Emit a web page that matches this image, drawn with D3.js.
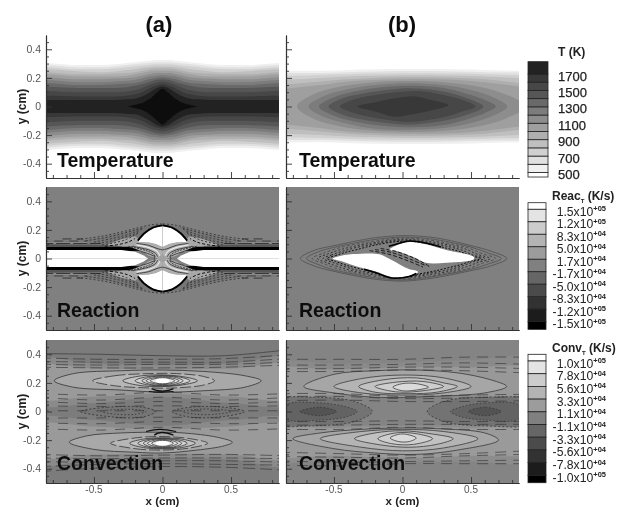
<!DOCTYPE html>
<html><head><meta charset="utf-8">
<script src="https://cdn.jsdelivr.net/npm/d3@7"></script>
<style>html,body{margin:0;background:#fff}svg{display:block;font-family:"Liberation Sans",Arial,sans-serif}</style>
</head><body><svg id="c" width="623" height="507"></svg>
<script>
// ---------- axis data ----------
const xMajor=[-0.5,0,0.5];
const xMinor=[-0.8,-0.7,-0.6,-0.4,-0.3,-0.2,-0.1,0.1,0.2,0.3,0.4,0.6,0.7,0.8];
const yMajor=[-0.4,-0.2,0,0.2,0.4];
const yMinor=[-0.45,-0.35,-0.3,-0.25,-0.15,-0.1,-0.05,0.05,0.1,0.15,0.25,0.3,0.35,0.45];
const rowNames=["Temperature","Reaction","Convection"];
const colNames=["(a)","(b)"];
// ---------- colour bars ----------
const tempLevels=[500,600,700,800,900,1000,1100,1200,1300,1400,1500,1600,1700,1800];
const tempGrays=["#f0f0f0","#e0e0e0","#d0d0d0","#bfbfbf","#afafaf","#9f9f9f","#8d8d8d","#7b7b7b","#696969","#565656","#474747","#383838","#212121","#101010"];
const tempTicks=[500,700,900,1100,1300,1500,1700];
const reacLabels=[["1.5","+05"],["1.2","+05"],["8.3","+04"],["5.0","+04"],["1.7","+04"],["-1.7","+04"],["-5.0","+04"],["-8.3","+04"],["-1.2","+05"],["-1.5","+05"]];
const convLabels=[["1.0","+05"],["7.8","+04"],["5.6","+04"],["3.3","+04"],["1.1","+04"],["-1.1","+04"],["-3.3","+04"],["-5.6","+04"],["-7.8","+04"],["-1.0","+05"]];
const barGrays=["#ffffff","#e4e4e4","#cccccc","#b4b4b4","#9c9c9c","#808080","#666666","#4c4c4c","#333333","#1a1a1a","#000000"];
// ---------- Temperature (a): half thickness of each level against |x| ----------
const tempAX=[0,.05,.1,.15,.2,.26,.35,.45,.6,.85,.95];
const tempAHalf=[
[.325,.325,.32,.315,.31,.305,.295,.29,.29,.305,.31],
[.31,.31,.305,.30,.295,.29,.28,.275,.275,.29,.295],
[.295,.295,.29,.285,.28,.275,.265,.26,.26,.275,.28],
[.28,.28,.275,.27,.26,.255,.245,.24,.245,.26,.265],
[.265,.265,.26,.25,.24,.235,.23,.225,.225,.24,.245],
[.25,.25,.245,.235,.225,.215,.21,.21,.21,.225,.23],
[.235,.235,.225,.215,.205,.2,.195,.19,.19,.205,.21],
[.22,.215,.21,.195,.185,.18,.175,.17,.17,.185,.19],
[.205,.2,.19,.175,.165,.16,.155,.15,.15,.165,.17],
[.19,.185,.17,.155,.145,.135,.13,.13,.13,.14,.145],
[.175,.165,.15,.13,.115,.105,.10,.10,.10,.11,.115],
[.155,.145,.125,.10,.085,.075,.07,.07,.07,.075,.075],
[.14,.125,.095,.07,.055,.05,.045,.045,.045,.045,.045],
[.125,.09,.05,.025,.012,0,0,0,0,0,0]];
// ---------- Temperature (b) ----------
const tempBX=[-.95,-.85,-.6,-.4,-.2,0,.2,.4,.6,.85,.95];
const tempBHalf=[
[.25,.25,.25,.255,.26,.262,.262,.26,.255,.25,.25],
[.235,.235,.235,.24,.245,.248,.248,.245,.24,.238,.238],
[.215,.215,.22,.225,.23,.233,.233,.23,.225,.22,.22],
[.19,.19,.2,.21,.215,.218,.218,.215,.21,.2,.195],
[.15,.155,.175,.19,.2,.205,.205,.2,.19,.165,.16],
[.115,.125,.15,.175,.185,.19,.19,.185,.17,.14,.125]];
const tempBRings=[
[1100,[[-.77,0],[-.65,.085],[-.45,.14],[-.2,.17],[.05,.178],[.3,.17],[.55,.14],[.75,.085],[.9,0],[.75,-.085],[.55,-.14],[.3,-.17],[.05,-.178],[-.2,-.17],[-.45,-.14],[-.65,-.085]]],
[1200,[[-.686,0],[-.58,.07],[-.4,.12],[-.2,.15],[.05,.162],[.3,.15],[.5,.115],[.66,.065],[.764,0],[.66,-.065],[.5,-.115],[.3,-.15],[.05,-.162],[-.2,-.155],[-.4,-.12],[-.58,-.07]]],
[1300,[[-.61,0],[-.5,.065],[-.35,.105],[-.15,.135],[.05,.145],[.3,.13],[.5,.08],[.6,.045],[.68,0],[.6,-.045],[.5,-.08],[.3,-.13],[.05,-.145],[-.15,-.135],[-.35,-.105],[-.5,-.065]]],
[1400,[[-.54,0],[-.43,.06],[-.3,.09],[-.1,.118],[.07,.128],[.3,.105],[.45,.065],[.59,0],[.45,-.065],[.3,-.1],[.05,-.128],[-.1,-.118],[-.3,-.09],[-.43,-.06]]],
[1500,[[-.457,0],[-.35,.05],[-.2,.08],[0,.103],[.12,.108],[.3,.08],[.42,.05],[.534,0],[.42,-.04],[.3,-.075],[.05,-.108],[-.1,-.095],[-.3,-.06],[-.4,-.03]]],
[1600,[[-.33,0],[-.2,.03],[-.05,.058],[.08,.072],[.2,.047],[.336,.01],[.2,-.03],[.05,-.058],[-.05,-.072],[-.2,-.035]]]];
// ---------- Reaction (a): one quadrant, drawn in all four ----------
const reacAFills=[
["#767676",[[-.95,.125],[-.6,.125],[-.45,.15],[-.3,.18],[-.18,.212],[-.06,.235],[0,.24],[0,.06],[-.2,.06],[-.95,.05]]],
["#a8a8a8",[[-.42,.09],[-.3,.135],[-.2,.155],[-.15,.115],[-.22,.085]]],
["#8a8a8a",[[-.95,.118],[-.7,.115],[-.55,.115],[-.55,.10],[-.95,.10]]],
["#555555",[[-.95,.1],[-.5,.097],[-.3,.088],[-.3,.06],[-.95,.06]]],
["#000000",[[-.95,.08],[-.25,.08],[-.18,.072],[-.12,.058],[-.25,.05],[-.95,.05]]],
["#b0b0b0",[[-.19,.115],[-.1,.11],[-.05,.1],[0,.08],[0,0],[-.03,0],[-.1,.02],[-.15,.05],[-.22,.075]]],
["#ffffff",[[0,.228],[-.07,.212],[-.13,.172],[-.176,.125],[-.172,.115],[-.1,.112],[-.05,.102],[0,.08]]],
["#ffffff",[[-.95,.06],[-.3,.06],[-.2,.047],[-.14,.022],[-.105,0],[-.95,0]]]];
const reacALines=[
[1.8,"none","#000",[[-.18,.125],[-.13,.178],[-.07,.216],[0,.232]]],
[.7,"2 2","#222",[[-.62,.132],[-.45,.155],[-.3,.185],[-.18,.215],[-.08,.236],[0,.242]]],
[.7,"2 2","#222",[[-.56,.124],[-.42,.145],[-.3,.172],[-.2,.198],[-.13,.217]]],
[.7,"2 2","#222",[[-.5,.115],[-.38,.137],[-.28,.16],[-.2,.185],[-.15,.205]]],
[.7,"2 2","#222",[[-.47,.105],[-.36,.125],[-.27,.15],[-.2,.172],[-.17,.19]]],
[.8,"2 2","#222",[[-.44,.095],[-.34,.112],[-.26,.135],[-.21,.16],[-.18,.175]]],
[.9,"3 2","#000",[[-.42,.085],[-.32,.098],[-.25,.115],[-.2,.14]]],
[.8,"9 5","#222",[[-.73,.137],[-.58,.137]]],
[.8,"9 6","#333",[[-.9,.122],[-.55,.122]]],
[.8,"14 3","#222",[[-.9,.105],[-.45,.105]]],
[.9,"none","#333",[[-.19,.105],[-.1,.092],[-.04,.07],[0,.06]]],
[.9,"none","#333",[[-.22,.085],[-.1,.06],[-.05,.035],[-.035,.012]]],
[1.2,"none","#e8e8e8",[[-.19,.095],[-.1,.076],[-.04,.05],[-.02,.02]]],
[.9,"none","#333",[[-.16,.05],[-.1,.032],[-.05,.012]]],
[.9,"2 1","#333",[[-.25,.085],[-.12,.055],[-.06,.025],[-.06,0]]]];
// ---------- Reaction (b) ----------
const reacBRings=[
[.5,"none",[[-.745,0],[-.65,.055],[-.5,.09],[-.35,.12],[-.2,.145],[0,.16],[.2,.15],[.35,.125],[.5,.09],[.65,.05],[.76,0],[.65,-.05],[.5,-.085],[.35,-.115],[.2,-.14],[0,-.158],[-.2,-.145],[-.35,-.12],[-.5,-.09],[-.65,-.05]]],
[.5,"none",[[-.7,0],[-.62,.045],[-.5,.078],[-.35,.108],[-.2,.133],[0,.15],[.2,.138],[.35,.113],[.5,.08],[.62,.04],[.72,0],[.62,-.04],[.5,-.075],[.35,-.105],[.2,-.13],[0,-.15],[-.2,-.135],[-.35,-.11],[-.5,-.08],[-.62,-.04]]],
[.6,"3 2",[[-.66,0],[-.58,.036],[-.48,.07],[-.35,.098],[-.2,.122],[0,.143],[.2,.128],[.35,.103],[.48,.074],[.58,.034],[.68,0],[.58,-.034],[.48,-.07],[.35,-.098],[.2,-.122],[0,-.143],[-.2,-.125],[-.35,-.1],[-.48,-.07],[-.58,-.034]]],
[.7,"2 2",[[-.62,0],[-.55,.03],[-.46,.06],[-.35,.086],[-.2,.112],[0,.135],[.2,.118],[.35,.092],[.46,.066],[.55,.028],[.64,0],[.55,-.028],[.46,-.06],[.35,-.088],[.2,-.112],[0,-.135],[-.2,-.115],[-.35,-.09],[-.46,-.06],[-.55,-.03]]],
[.8,"2 2",[[-.58,0],[-.52,.024],[-.44,.05],[-.35,.074],[-.2,.103],[0,.128],[.2,.108],[.35,.08],[.44,.056],[.52,.022],[.6,0],[.52,-.022],[.44,-.05],[.35,-.076],[.2,-.102],[0,-.128],[-.2,-.105],[-.35,-.078],[-.44,-.05],[-.52,-.024]]],
[1,"2 1.5",[[-.55,0],[-.49,.02],[-.42,.042],[-.33,.063],[-.2,.094],[0,.12],[.2,.098],[.33,.07],[.42,.048],[.5,.018],[.57,0],[.5,-.018],[.42,-.044],[.33,-.066],[.2,-.094],[0,-.12],[-.2,-.096],[-.33,-.068],[-.42,-.044],[-.49,-.02]]]];
const reacBWhite=[
[[-.51,.0],[-.42,.025],[-.3,.034],[-.17,.03],[-.1,.0],[.05,-.075],[.1,-.085],[.115,-.095],[.05,-.12],[-.08,-.13],[-.2,-.09],[-.35,-.05],[-.45,-.018]],
[[-.1,.06],[-.05,.09],[.05,.115],[.17,.1],[.32,.06],[.52,.012],[.52,-.005],[.32,-.03],[.17,-.03],[.08,.01],[-.05,.055]]];
const reacBBlack=[
[1.6,[[-.1,.085],[-.03,.105],[.05,.122],[.17,.108],[.28,.08]]],
[1.6,[[.1,-.105],[.05,-.126],[-.08,-.136],[-.2,-.098],[-.28,-.075]]],
[.8,[[-.16,.07],[-.05,.05],[.08,.005],[.17,-.04],[.2,-.06]]],
[.8,[[-.24,.055],[-.1,.03],[.05,-.02],[.15,-.06]]],
[.8,[[-.2,.062],[-.08,.042],[.07,-.01],[.17,-.05]]]];
// ---------- Convection (a) ----------
const convAFills=[
["#8a8a8a",[[-.95,.36],[-.5,.335],[0,.325],[.5,.335],[.95,.37],[.95,.06],[.5,.06],[0,.10],[-.5,.06],[-.95,.06]]],
["#9a9a9a",[[-.95,.31],[-.5,.30],[0,.295],[.5,.30],[.95,.32],[.95,.10],[.5,.105],[0,.125],[-.5,.105],[-.95,.10]]],
["#a8a8a8",[[-.79,.215],[-.65,.265],[-.3,.285],[0,.29],[.3,.28],[.6,.25],[.72,.215],[.6,.17],[.3,.145],[0,.135],[-.3,.15],[-.65,.17]]],
["#b6b6b6",[[-.51,.215],[-.35,.25],[-.1,.265],[.1,.265],[.3,.245],[.38,.215],[.3,.185],[.1,.165],[-.1,.165],[-.35,.18]]],
["#c4c4c4",[[-.29,.215],[-.15,.25],[.1,.25],[.255,.215],[.1,.18],[-.15,.18]]],
["#d2d2d2",[[-.2,.215],[-.1,.245],[.1,.245],[.2,.215],[.1,.185],[-.1,.185]]],
["#e4e4e4",[[-.12,.215],[-.05,.238],[.05,.238],[.12,.215],[.05,.192],[-.05,.192]]],
["#ffffff",[[-.05,.215],[-.025,.235],[.025,.235],[.05,.215],[.025,.197],[-.025,.197]]],
["#8a8a8a",[[-.95,-.36],[-.5,-.335],[0,-.325],[.5,-.335],[.95,-.37],[.95,-.06],[.5,-.06],[0,-.10],[-.5,-.06],[-.95,-.06]]],
["#9a9a9a",[[-.95,-.31],[-.5,-.30],[0,-.295],[.5,-.30],[.95,-.32],[.95,-.10],[.5,-.105],[0,-.125],[-.5,-.105],[-.95,-.10]]],
["#a8a8a8",[[-.68,-.215],[-.5,-.265],[-.2,-.285],[0,-.29],[.25,-.27],[.45,-.24],[.51,-.215],[.4,-.18],[.15,-.15],[0,-.145],[-.3,-.15],[-.55,-.17]]],
["#b6b6b6",[[-.38,-.222],[-.2,-.26],[0,-.27],[.2,-.255],[.33,-.222],[.2,-.19],[0,-.175],[-.2,-.185]]],
["#c4c4c4",[[-.24,-.222],[-.12,-.255],[.12,-.255],[.24,-.222],[.12,-.19],[-.12,-.19]]],
["#d2d2d2",[[-.18,-.222],[-.1,-.25],[.1,-.25],[.18,-.222],[.1,-.195],[-.1,-.195]]],
["#e4e4e4",[[-.11,-.222],[-.05,-.245],[.05,-.245],[.11,-.222],[.05,-.2],[-.05,-.2]]],
["#ffffff",[[-.05,-.222],[-.025,-.24],[.025,-.24],[.05,-.222],[.025,-.205],[-.025,-.205]]],
["#747474",[[-.6,.0],[-.4,.03],[-.15,.03],[-.05,.0],[-.15,-.04],[-.4,-.035]]],
["#747474",[[.07,.0],[.2,.03],[.45,.03],[.6,.0],[.45,-.035],[.2,-.04]]]];
const convABow=[[.405,.40,.39,.39,.43],[.375,.365,.365,.37,.395],[.35,.345,.345,.345,.37],[.33,.325,.33,.33,.345],[.31,.305,.305,.31,.325],[.125,.115,.135,.115,.125],[.098,.08,.1,.08,.098],[.07,.055,.07,.055,.07],[.04,.035,.04,.035,.04],[.005,.005,.005,.005,.005],[-.045,-.045,-.04,-.045,-.045],[-.08,-.085,-.07,-.085,-.08],[-.12,-.13,-.11,-.13,-.12],[-.3,-.31,-.305,-.30,-.31],[-.325,-.33,-.325,-.325,-.33],[-.35,-.355,-.345,-.345,-.355],[-.385,-.37,-.365,-.37,-.375],[-.42,-.395,-.385,-.39,-.41]];
const convBowX=[-.9,-.45,0,.45,.9];
const convARings=[
["none",[[-.79,.215],[-.65,.265],[-.3,.285],[0,.29],[.3,.28],[.6,.25],[.72,.215],[.6,.17],[.3,.145],[0,.135],[-.3,.15],[-.65,.17]]],
["11 3",[[-.51,.215],[-.35,.25],[-.1,.265],[.1,.265],[.3,.245],[.38,.215],[.3,.185],[.1,.165],[-.1,.165],[-.35,.18]]],
["none",[[-.29,.215],[-.15,.25],[.1,.25],[.255,.215],[.1,.18],[-.15,.18]]],
["none",[[-.2,.215],[-.1,.245],[.1,.245],[.2,.215],[.1,.185],[-.1,.185]]],
["none",[[-.15,.215],[-.08,.242],[.08,.242],[.15,.215],[.08,.188],[-.08,.188]]],
["none",[[-.12,.215],[-.05,.238],[.05,.238],[.12,.215],[.05,.192],[-.05,.192]]],
["none",[[-.09,.215],[-.04,.233],[.04,.233],[.09,.215],[.04,.197],[-.04,.197]]],
["none",[[-.68,-.215],[-.5,-.265],[-.2,-.285],[0,-.29],[.25,-.27],[.45,-.24],[.51,-.215],[.4,-.18],[.15,-.15],[0,-.145],[-.3,-.15],[-.55,-.17]]],
["11 3",[[-.38,-.222],[-.2,-.26],[0,-.27],[.2,-.255],[.33,-.222],[.2,-.19],[0,-.175],[-.2,-.185]]],
["none",[[-.24,-.222],[-.12,-.255],[.12,-.255],[.24,-.222],[.12,-.19],[-.12,-.19]]],
["none",[[-.18,-.222],[-.1,-.25],[.1,-.25],[.18,-.222],[.1,-.195],[-.1,-.195]]],
["none",[[-.14,-.222],[-.08,-.248],[.08,-.248],[.14,-.222],[.08,-.197],[-.08,-.197]]],
["none",[[-.11,-.222],[-.05,-.245],[.05,-.245],[.11,-.222],[.05,-.2],[-.05,-.2]]],
["none",[[-.08,-.222],[-.04,-.24],[.04,-.24],[.08,-.222],[.04,-.205],[-.04,-.205]]],
["2 2",[[-.6,.0],[-.4,.03],[-.15,.03],[-.05,.0],[-.15,-.04],[-.4,-.035]]],
["2 2",[[.07,.0],[.2,.03],[.45,.03],[.6,.0],[.45,-.035],[.2,-.04]]],
["1.5 2",[[-.45,0],[-.3,.015],[-.18,.012],[-.12,0],[-.2,-.02],[-.35,-.018]]],
["1.5 2",[[.15,0],[.25,.015],[.4,.015],[.5,0],[.4,-.018],[.25,-.02]]]];
const convABlack=[
[1.4,[[-.08,.16],[-.03,.145],[.03,.145],[.08,.16]]],
[1.2,[[-.1,.14],[-.02,.135],[.08,.14]]],
[1.4,[[-.06,-.165],[-.03,-.15],[.03,-.15],[.08,-.165]]],
[1.2,[[-.12,-.14],[-.02,-.125],[.1,-.14]]]];
// ---------- Convection (b) ----------
const convBLens=[[-.72,.175],[-.5,.26],[-.2,.285],[.1,.29],[.4,.27],[.65,.22],[.76,.175],[.6,.13],[.2,.105],[-.2,.1],[-.5,.13]];
const convBFills=[
["#8a8a8a",[[-.95,.33],[-.5,.335],[0,.345],[.5,.36],[.95,.365],[.95,.08],[.5,.09],[0,.11],[-.5,.08],[-.95,.07]]],
["#989898",[[-.95,.29],[-.5,.295],[0,.31],[.5,.31],[.95,.29],[.95,.12],[.5,.115],[0,.105],[-.5,.115],[-.95,.12]]],
["#a6a6a6",convBLens],
["#b4b4b4",[[-.5,.175],[-.3,.23],[0,.255],[.3,.235],[.5,.175],[.3,.13],[0,.115],[-.3,.13]]],
["#c2c2c2",[[-.32,.175],[-.15,.22],[.1,.235],[.3,.2],[.4,.175],[.25,.135],[.05,.125],[-.2,.135]]],
["#cecece",[[-.2,.175],[-.05,.205],[.15,.21],[.3,.175],[.15,.145],[0,.135],[-.1,.145]]],
["#dadada",[[-.07,.17],[0,.195],[.1,.195],[.19,.17],[.1,.15],[0,.145]]],
["#8c8c8c",[[-.95,-.33],[-.5,-.34],[0,-.35],[.5,-.35],[.95,-.34],[.95,-.09],[.5,-.09],[0,-.10],[-.5,-.09],[-.95,-.09]]],
["#9a9a9a",[[-.95,-.30],[-.5,-.31],[0,-.325],[.5,-.31],[.95,-.28],[.95,-.13],[.5,-.115],[0,-.105],[-.5,-.115],[-.95,-.13]]],
["#a6a6a6",[[-.8,-.19],[-.5,-.26],[-.2,-.29],[.1,-.3],[.4,-.27],[.7,-.2],[.6,-.15],[.25,-.12],[0,-.115],[-.3,-.125],[-.6,-.15]]],
["#b4b4b4",[[-.6,-.19],[-.3,-.25],[0,-.275],[.3,-.255],[.55,-.19],[.3,-.14],[0,-.125],[-.3,-.14]]],
["#c2c2c2",[[-.35,-.19],[-.15,-.235],[.05,-.25],[.25,-.23],[.37,-.19],[.2,-.155],[0,-.135],[-.2,-.15]]],
["#cecece",[[-.18,-.19],[-.08,-.225],[.08,-.23],[.22,-.19],[.1,-.155],[-.05,-.15]]],
["#dadada",[[-.09,-.185],[-.03,-.21],[.05,-.21],[.1,-.185],[.03,-.16],[-.03,-.16]]],
["#737373",[[-.95,.075],[-.65,.1],[-.35,.07],[-.22,.0],[-.35,-.07],[-.65,-.1],[-.95,-.08]]],
["#737373",[[.95,.07],[.6,.1],[.3,.07],[.18,.0],[.3,-.07],[.6,-.1],[.95,-.08]]],
["#636363",[[-.85,.045],[-.6,.06],[-.4,.03],[-.33,0],[-.4,-.035],[-.6,-.06],[-.85,-.05]]],
["#636363",[[.85,.045],[.6,.06],[.42,.03],[.35,0],[.42,-.035],[.6,-.06],[.85,-.05]]],
["#525252",[[-.75,0],[-.6,.03],[-.48,0],[-.6,-.03]]],
["#525252",[[.72,0],[.6,.03],[.48,0],[.6,-.03]]]];
const convBBow=[[.365,.365,.365,.38,.38],[.325,.325,.33,.34,.33],[.30,.30,.31,.31,.30],[.28,.28,.29,.285,.27],[.125,.125,.105,.115,.12],[.105,.105,.09,.095,.105],[.075,.08,.07,.07,.075],[-.07,-.07,-.065,-.07,-.07],[-.095,-.095,-.09,-.09,-.09],[-.125,-.125,-.11,-.125,-.125],[-.285,-.295,-.305,-.295,-.275],[-.315,-.32,-.325,-.31,-.3],[-.345,-.355,-.35,-.345,-.34],[-.375,-.38,-.365,-.365,-.365]];
const convBRings=[
["none",convBLens],
["none",[[-.5,.175],[-.3,.23],[0,.255],[.3,.235],[.5,.175],[.3,.13],[0,.115],[-.3,.13]]],
["none",[[-.32,.175],[-.15,.22],[.1,.235],[.3,.2],[.4,.175],[.25,.135],[.05,.125],[-.2,.135]]],
["none",[[-.2,.175],[-.05,.205],[.15,.21],[.3,.175],[.15,.145],[0,.135],[-.1,.145]]],
["none",[[-.07,.17],[0,.195],[.1,.195],[.19,.17],[.1,.15],[0,.145]]],
["none",[[-.8,-.19],[-.5,-.26],[-.2,-.29],[.1,-.3],[.4,-.27],[.7,-.2],[.6,-.15],[.25,-.12],[0,-.115],[-.3,-.125],[-.6,-.15]]],
["none",[[-.6,-.19],[-.3,-.25],[0,-.275],[.3,-.255],[.55,-.19],[.3,-.14],[0,-.125],[-.3,-.14]]],
["none",[[-.35,-.19],[-.15,-.235],[.05,-.25],[.25,-.23],[.37,-.19],[.2,-.155],[0,-.135],[-.2,-.15]]],
["none",[[-.18,-.19],[-.08,-.225],[.08,-.23],[.22,-.19],[.1,-.155],[-.05,-.15]]],
["none",[[-.09,-.185],[-.03,-.21],[.05,-.21],[.1,-.185],[.03,-.16],[-.03,-.16]]],
["2 2",[[-.95,.075],[-.65,.1],[-.35,.07],[-.22,.0],[-.35,-.07],[-.65,-.1],[-.95,-.08]]],
["2 2",[[.95,.07],[.6,.1],[.3,.07],[.18,.0],[.3,-.07],[.6,-.1],[.95,-.08]]],
["1.5 2",[[-.85,.045],[-.6,.06],[-.4,.03],[-.33,0],[-.4,-.035],[-.6,-.06],[-.85,-.05]]],
["1.5 2",[[.85,.045],[.6,.06],[.42,.03],[.35,0],[.42,-.035],[.6,-.06],[.85,-.05]]],
["1.5 2",[[-.75,0],[-.6,.03],[-.48,0],[-.6,-.03]]],
["1.5 2",[[.72,0],[.6,.03],[.48,0],[.6,-.03]]]];
// ---------- layout ----------
const W=233, H=143;
const colX=[46,286], rowY=[35,187,340];
const svg=d3.select("#c");
const defs=svg.append("defs");
defs.append("filter").attr("id","soft").attr("x","-5%").attr("y","-5%").attr("width","110%").attr("height","110%").append("feGaussianBlur").attr("stdDeviation",.65);
defs.append("filter").attr("id","softer").attr("x","-5%").attr("y","-5%").attr("width","110%").attr("height","110%").append("feGaussianBlur").attr("stdDeviation",.6);
defs.append("filter").attr("id","softT").attr("x","-5%").attr("y","-20%").attr("width","110%").attr("height","140%").append("feGaussianBlur").attr("stdDeviation",.38);
const root=svg.append("g").attr("filter","url(#soft)");
const xs=d3.scaleLinear().domain([-.85,.85]).range([0,W]);
const ys=d3.scaleLinear().domain([-.5,.5]).range([H,0]);
const closed=d3.line().x(d=>xs(d[0])).y(d=>ys(d[1])).curve(d3.curveCatmullRomClosed.alpha(.5));
const open=d3.line().x(d=>xs(d[0])).y(d=>ys(d[1])).curve(d3.curveCatmullRom.alpha(.5));
const straight=d3.line().x(d=>xs(d[0])).y(d=>ys(d[1])).curve(d3.curveLinearClosed);
const band=d3.area().x(d=>xs(d[0])).y0(d=>ys(-d[1])).y1(d=>ys(d[1])).curve(d3.curveMonotoneX);
const tempColor=d3.scaleOrdinal(tempLevels,tempGrays);

function panel(r,c){
  const g=root.append("g").attr("transform",`translate(${colX[c]},${rowY[r]})`);
  const id=`clip${r}${c}`;
  defs.append("clipPath").attr("id",id).append("rect").attr("width",W).attr("height",H);
  const clip=g.append("g").attr("clip-path",`url(#${id})`);
  return {g,body:clip.append("g")};
}
const fills=(b,list,path=closed)=>list.forEach(([col,pts])=>b.append("path").attr("d",path(pts)).attr("fill",col));
const lineP=(b,pts,w,dash,col="#1c1c1c",path=open)=>b.append("path").attr("d",path(pts)).attr("fill","none").attr("stroke",col).attr("stroke-width",w).attr("stroke-dasharray",dash==="none"?null:dash);

{const {body}=panel(0,0);
 body.attr("filter","url(#softer)");
 tempAHalf.forEach((h,i)=>{
  const pts=[...tempAX.map((x,k)=>[-x,h[k]]).reverse(),...tempAX.slice(1).map((x,k)=>[x,h[k+1]])];
  body.append("path").attr("d",band(pts)).attr("fill",tempGrays[i]);
 });}
{const {body}=panel(0,1);
 body.attr("filter","url(#softer)");
 tempBHalf.forEach((h,i)=>body.append("path").attr("d",band(tempBX.map((x,k)=>[x,h[k]]))).attr("fill",tempGrays[i]));
 tempBRings.forEach(([lev,pts])=>body.append("path").attr("d",closed(pts)).attr("fill",tempColor(lev)));
}
{const {body}=panel(1,0);
 body.append("rect").attr("width",W).attr("height",H).attr("fill","#808080");
 [[1,1],[-1,1],[1,-1],[-1,-1]].forEach(([sx,sy])=>{
  const m=p=>p.map(d=>[d[0]*sx,d[1]*sy]);
  reacAFills.forEach(([col,pts])=>body.append("path").attr("d",straight(m(pts))).attr("fill",col));
  reacALines.forEach(([w,dash,col,pts])=>lineP(body,m(pts),w,dash,col));
 });
 body.append("path").attr("d",closed([[-.03,0],[0,.025],[.03,0],[0,-.025]])).attr("fill","#a0a0a0");
}
{const {body}=panel(1,1);
 body.append("rect").attr("width",W).attr("height",H).attr("fill","#808080");
 reacBRings.forEach(([w,dash,pts])=>body.append("path").attr("d",closed(pts)).attr("fill","none").attr("stroke",w<.7?"#333":"#111").attr("stroke-width",w).attr("stroke-dasharray",dash==="none"?null:dash));
 reacBWhite.forEach(pts=>body.append("path").attr("d",closed(pts)).attr("fill","#fff"));
 reacBBlack.forEach(([w,pts])=>lineP(body,pts,w,w>1.5?"none":"4 2","#000"));
}
{const {body}=panel(2,0);
 body.append("rect").attr("width",W).attr("height",H).attr("fill","#7b7b7b");
 fills(body,convAFills);
 convABow.forEach((ys0,i)=>lineP(body,convBowX.map((x,k)=>[x,ys0[k]]),.7,i===0?"none":(Math.abs(ys0[2])<.15?"10 9":"12 5"),"#3a3a3a"));
 convARings.forEach(([dash,pts])=>body.append("path").attr("d",closed(pts)).attr("fill","none").attr("stroke","#333").attr("stroke-width",.8).attr("stroke-dasharray",dash==="none"?null:dash));
 convABlack.forEach(([w,pts])=>lineP(body,pts,w,"none","#111"));
}
{const {body}=panel(2,1);
 body.append("rect").attr("width",W).attr("height",H).attr("fill","#848484");
 fills(body,convBFills);
 convBBow.forEach((ys0,i)=>lineP(body,convBowX.map((x,k)=>[x,ys0[k]]),.7,"11 7","#3a3a3a"));
 convBRings.forEach(([dash,pts])=>body.append("path").attr("d",closed(pts)).attr("fill","none").attr("stroke","#333").attr("stroke-width",.75).attr("stroke-dasharray",dash==="none"?null:dash));
}
// ---------- axes ----------
const labels=svg.append("g").attr("filter","url(#softT)");
rowY.forEach((ry,r)=>colX.forEach((cx,c)=>{
 const g=root.append("g").attr("transform",`translate(${cx},${ry})`);
 const style=a=>{a.selectAll("path").attr("stroke","#333").attr("stroke-width",1.1);a.selectAll("line").attr("stroke","#333").attr("stroke-width",.9);a.selectAll("text").remove();return a;};
 style(g.append("g").call(d3.axisLeft(ys).tickValues(yMajor).tickSize(-6).tickSizeOuter(0)));
 style(g.append("g").call(d3.axisLeft(ys).tickValues(yMinor).tickSize(-3).tickSizeOuter(0)));
 style(g.append("g").attr("transform",`translate(0,${H})`).call(d3.axisBottom(xs).tickValues(xMajor).tickSize(-6).tickSizeOuter(0)));
 style(g.append("g").attr("transform",`translate(0,${H})`).call(d3.axisBottom(xs).tickValues(xMinor).tickSize(-3).tickSizeOuter(0)));
 if(c===0) yMajor.forEach(v=>labels.append("text").attr("x",cx-5).attr("y",ry+ys(v)+3.7).attr("text-anchor","end").attr("font-size",10.5).attr("fill","#555").text(v===0?"0":d3.format(".1f")(v).replace("−","-")));
 if(r===2) xMajor.forEach(v=>labels.append("text").attr("x",cx+xs(v)).attr("y",ry+H+10).attr("text-anchor","middle").attr("font-size",10).attr("fill","#555").text(v===0?"0":d3.format(".1f")(v).replace("−","-")));
 labels.append("text").attr("x",cx+(c?13:11)).attr("y",[167,317,470][r]).attr("font-size",19.5).attr("font-weight","bold").attr("fill","#111").text(rowNames[r]);
}));
rowY.forEach(ry=>labels.append("text").attr("transform",`translate(26,${ry+H/2}) rotate(-90)`).attr("text-anchor","middle").attr("font-size",12).attr("font-weight","bold").attr("fill","#222").text("y (cm)"));
colX.forEach(cx=>labels.append("text").attr("x",cx+xs(0)).attr("y",505).attr("text-anchor","middle").attr("font-size",11.5).attr("font-weight","bold").attr("fill","#222").text("x (cm)"));
colNames.forEach((t,i)=>labels.append("text").attr("x",[159,402][i]).attr("y",32).attr("text-anchor","middle").attr("font-size",22).attr("font-weight","bold").attr("fill","#111").text(t));
// ---------- colour bars ----------
const barG=root.append("g");
const tempY=d3.scaleLinear().domain([500,1700]).range([172.5,74]);
const barX=528;
{const edges=[445,...tempLevels.slice(0,13),1850];
 edges.slice(0,-1).forEach((e,i)=>{const top=tempY(edges[i+1]),bot=tempY(e);
  barG.append("rect").attr("x",barX).attr("width",20).attr("y",top).attr("height",bot-top).attr("fill",i===0?"#fff":tempGrays[i-1]).attr("stroke","#222").attr("stroke-width",.8);});
 tempTicks.forEach(t=>labels.append("text").attr("x",558).attr("y",tempY(t)+6.5).attr("font-size",13).attr("fill","#222").attr("stroke","#222").attr("stroke-width",.25).text(t));
 labels.append("text").attr("x",558).attr("y",56).attr("font-size",12).attr("font-weight","bold").attr("fill","#222").text("T (K)");
}
function sciBar(list,top,bot,first,last,title,titleY){
 const sy=d3.scalePoint().domain(list.map(d=>d.join(""))).range([first,last]);
 const edges=[top,...list.map(d=>sy(d.join(""))),bot];
 barGrays.forEach((col,i)=>barG.append("rect").attr("x",barX).attr("width",18).attr("y",edges[i]).attr("height",edges[i+1]-edges[i]).attr("fill",col).attr("stroke","#222").attr("stroke-width",.8));
 list.forEach(([m,e])=>{const t=labels.append("text").attr("x",606).attr("y",sy(m+e)+6.5).attr("text-anchor","end").attr("font-size",12.2).attr("fill","#222");
  t.append("tspan").text(m+"x10");
  t.append("tspan").attr("dy",-4.5).attr("font-size",7.5).attr("font-weight","bold").text(e);});
 const t=labels.append("text").attr("x",552).attr("y",titleY).attr("font-size",12).attr("font-weight","bold").attr("fill","#222");
 t.append("tspan").text(title);
 t.append("tspan").attr("dy",2.5).attr("font-size",6).text("T");
 t.append("tspan").attr("dy",-2.5).text(" (K/s)");
}
sciBar(reacLabels,202.7,329.3,209.3,321.7,"Reac",200);
sciBar(convLabels,354.3,482.7,361,475.3,"Conv",352);
</script></body></html>
